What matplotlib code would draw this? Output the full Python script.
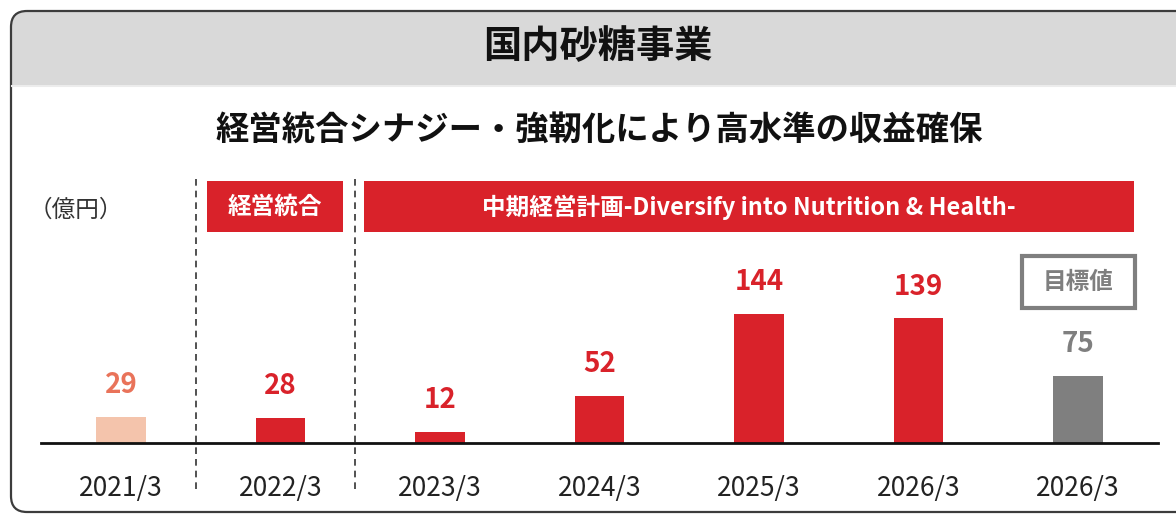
import matplotlib
matplotlib.use("Agg")
import matplotlib.pyplot as plt
from matplotlib.patches import FancyBboxPatch, Rectangle

plt.rcParams['font.family'] = ['Noto Sans CJK JP', 'DejaVu Sans']

# data
years = ["2021/3", "2022/3", "2023/3", "2024/3", "2025/3", "2026/3", "2026/3"]
profit = [29, 28, 12, 52, 144, 139, 75]

RED = "#D9222A"
GRAY = "#7F7F7F"
bar_colors = ["#F4C4AC", RED, RED, RED, RED, RED, GRAY]
label_colors = ["#E9735A", RED, RED, RED, RED, RED, GRAY]

title = "国内砂糖事業"
subtitle = "経営統合シナジー・強靭化により高水準の収益確保"
unit = "（億円）"
phase1 = "経営統合"
phase2 = "中期経営計画-Diversify into Nutrition & Health-"
target_tag = "目標値"

W, H = 1176, 515
fig = plt.figure(figsize=(W / 100, H / 100), dpi=100)

# background layer in pixel coords
bg = fig.add_axes([0, 0, 1, 1])
bg.set_xlim(0, W)
bg.set_ylim(H, 0)
bg.axis('off')

frame = FancyBboxPatch((11, 11), 1250, 501, boxstyle="round,pad=0,rounding_size=16",
                       facecolor="white", edgecolor="none")
bg.add_patch(frame)
header = Rectangle((0, 0), W + 100, 85, facecolor="#D9D9D9", edgecolor="none")
bg.add_patch(header)
header.set_clip_path(frame)
bg.plot([12, W], [86, 86], color="#ECECEC", lw=1.5)
edge = FancyBboxPatch((11, 11), 1250, 501, boxstyle="round,pad=0,rounding_size=16",
                      facecolor="none", edgecolor="#3C3C3C", lw=1.6)
bg.add_patch(edge)

bg.text(598, 47, title, ha='center', va='center', fontsize=27.5, fontweight='bold', color="#111111")
bg.text(599, 130, subtitle, ha='center', va='center', fontsize=24, fontweight='bold', color="#111111")
bg.text(76, 210, unit, ha='center', va='center', fontsize=17, color="#333333")

# phase banners
bg.add_patch(Rectangle((207, 181), 136, 51, facecolor=RED, edgecolor="none"))
bg.text(275, 207, phase1, ha='center', va='center', fontsize=17, fontweight='bold', color="white")
bg.add_patch(Rectangle((364, 181), 770, 51, facecolor=RED, edgecolor="none"))
bg.text(749, 207, phase2, ha='center', va='center', fontsize=17, fontweight='bold', color="white")

# separators
for xs in [196, 355]:
    bg.plot([xs, xs], [179, 489], color="#333333", lw=1.2, dashes=(4, 3))

# target tag
bg.add_patch(Rectangle((1022, 256), 113, 52, facecolor="white", edgecolor=GRAY, lw=3))
bg.text(1078.5, 282, target_tag, ha='center', va='center', fontsize=17, fontweight='bold', color=GRAY)

# bar chart
left, right = 41.25, 1157.75
base_y, top_y = 443, 170
ax = fig.add_axes([left / W, (H - base_y) / H, (right - left) / W, (base_y - top_y) / H])
ax.patch.set_alpha(0)
x = list(range(len(profit)))
ax.bar(x, profit, width=0.31, color=bar_colors)
ax.set_xlim(-0.5, len(profit) - 0.5)
ax.set_ylim(0, (base_y - top_y) / 0.896)
for s in ['top', 'right', 'left']:
    ax.spines[s].set_visible(False)
ax.spines['bottom'].set_linewidth(2)
ax.spines['bottom'].set_color("#111111")
ax.set_yticks([])
ax.set_xticks(x)
ax.set_xticklabels(years, fontsize=19, color="#222222")
ax.tick_params(axis='x', length=0, pad=23)

for i, v in enumerate(profit):
    ax.annotate(str(v), (i, v), xytext=(0, 23), textcoords='offset points',
                ha='center', va='center', fontsize=20, fontweight='bold', color=label_colors[i])

fig.savefig("out.png", dpi=100)
